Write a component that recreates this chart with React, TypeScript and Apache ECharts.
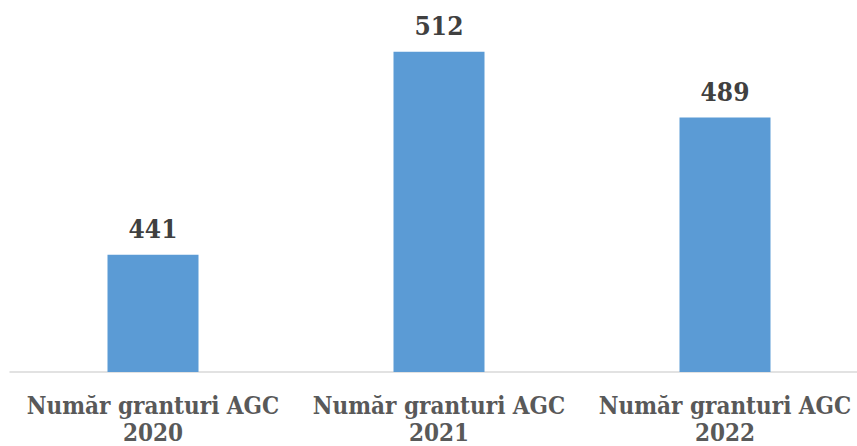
import React, { useEffect, useRef } from "react";
import * as echarts from "echarts";

const categories = [
  "Număr granturi AGC\n2020",
  "Număr granturi AGC\n2021",
  "Număr granturi AGC\n2022",
];
const values = [441, 512, 489];

const FONT = "'DejaVu Serif Condensed', 'DejaVu Serif', serif";

export default function App() {
  const ref = useRef<HTMLDivElement>(null);
  useEffect(() => {
    const chart = echarts.init(ref.current!, null, { renderer: "svg" });
    chart.setOption({
      animation: false,
      backgroundColor: "#ffffff",
      grid: {
        left: 10,
        right: 0,
        top: 29,
        bottom: 74,
        containLabel: false,
        outerBoundsMode: "none",
      },
      xAxis: {
        type: "category",
        data: categories,
        axisLine: { show: true, lineStyle: { color: "#d9d9d9", width: 1.5 } },
        axisTick: { show: false },
        axisLabel: {
          interval: 0,
          margin: 20,
          color: "#595959",
          fontFamily: FONT,
          fontWeight: "bold",
          fontSize: 24,
          lineHeight: 27,
        },
      },
      yAxis: {
        type: "value",
        min: 400,
        max: 520,
        show: false,
        splitLine: { show: false },
      },
      series: [
        {
          type: "bar",
          data: values,
          barWidth: 91,
          itemStyle: { color: "#5b9bd5" },
          label: {
            show: true,
            position: "top",
            distance: 13,
            color: "#404040",
            fontFamily: FONT,
            fontWeight: "bold",
            fontSize: 26,
          },
        },
      ],
    });
    return () => chart.dispose();
  }, []);
  return (
    <div
      style={{
        position: "absolute",
        left: 0,
        top: 0,
        width: 857,
        height: 446,
        overflow: "hidden",
      }}
    >
      <div ref={ref} style={{ width: 868, height: 446 }} />
    </div>
  );
}
